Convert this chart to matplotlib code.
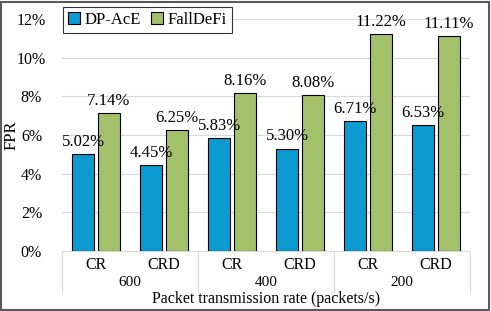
import numpy as np
import matplotlib
matplotlib.use("Agg")
import matplotlib.pyplot as plt
from matplotlib.patches import Rectangle
from matplotlib.lines import Line2D

plt.rcParams['font.family'] = ['Liberation Serif', 'DejaVu Serif']

modes = ['CR', 'CRD', 'CR', 'CRD', 'CR', 'CRD']
rates = ['600', '400', '200']
dpace = [5.02, 4.45, 5.83, 5.30, 6.71, 6.53]
falldefi = [7.14, 6.25, 8.16, 8.08, 11.22, 11.11]
yticks = [0, 2, 4, 6, 8, 10, 12]

blue = '#0b9bd0'
green = '#a3c06a'

W, H = 491, 311
fig = plt.figure(figsize=(W / 100, H / 100), dpi=100)
ax = fig.add_axes([62 / W, (H - 251) / H, (470 - 62) / W, (251 - 19) / H])

xs = np.arange(len(modes))
w = 0.32
off = 0.19
b1 = ax.bar(xs - off, dpace, w, color=blue, edgecolor='black', linewidth=0.8, zorder=3)
b2 = ax.bar(xs + off, falldefi, w, color=green, edgecolor='black', linewidth=0.8, zorder=3)

for bars, vals in ((b1, dpace), (b2, falldefi)):
    for r, v in zip(bars, vals):
        ax.annotate('%.2f%%' % v, (r.get_x() + r.get_width() / 2, v),
                    xytext=(0, 3), textcoords='offset points',
                    ha='center', va='bottom', fontsize=12)

ax.set_xlim(-0.5, len(modes) - 0.5)
ax.set_ylim(0, 12)
ax.set_yticks(yticks)
ax.set_yticklabels(['%d%%' % t for t in yticks], fontsize=11.5, ha='center')
ax.tick_params(axis='y', length=0, pad=22)
ax.yaxis.grid(True, color='#d9d9d9', linewidth=0.8, zorder=0)
for s in ['top', 'right', 'left']:
    ax.spines[s].set_visible(False)
ax.spines['bottom'].set_color('#d9d9d9')
ax.spines['bottom'].set_linewidth(0.8)
ax.set_xticks([])
fig.text(12 / W, 1 - 135 / H, 'FPR', rotation=90, ha='center', va='center', fontsize=12)

# two-level category axis
tr = ax.get_xaxis_transform()
py = 1.0 / (251 - 19)
for i, m in enumerate(modes):
    ax.text(i, -14 * py, m, transform=tr, ha='center', va='center', fontsize=11.5)
for g, r in enumerate(rates):
    ax.text(2 * g + 0.5, -31 * py, r, transform=tr, ha='center', va='center', fontsize=11)
for b in [-0.5, 1.5, 3.5, 5.5]:
    ax.add_line(Line2D([b, b], [0, -41 * py], transform=tr, color='#d9d9d9',
                       linewidth=0.8, clip_on=False))
fig.text((62 + 470) / 2 / W, 1 - 299 / H, 'Packet transmission rate (packets/s)',
         ha='center', va='center', fontsize=11.5)

leg = fig.legend([b1, b2], ['DP-AcE', 'FallDeFi'], loc='upper left',
                 bbox_to_anchor=(63 / W, 1 - 7 / H), ncol=2, fontsize=12,
                 frameon=True, fancybox=False, handlelength=0.7, handleheight=0.7,
                 handletextpad=0.3, columnspacing=0.6, borderpad=0.3,
                 borderaxespad=0)
leg.get_frame().set_edgecolor('black')
leg.get_frame().set_linewidth(0.8)

fig.patches.append(Rectangle((1 / W, 1 / H), 1 - 3 / W, 1 - 3 / H, transform=fig.transFigure,
                             fill=False, edgecolor='#595959', linewidth=1.5))

fig.savefig('out.png', dpi=100)
